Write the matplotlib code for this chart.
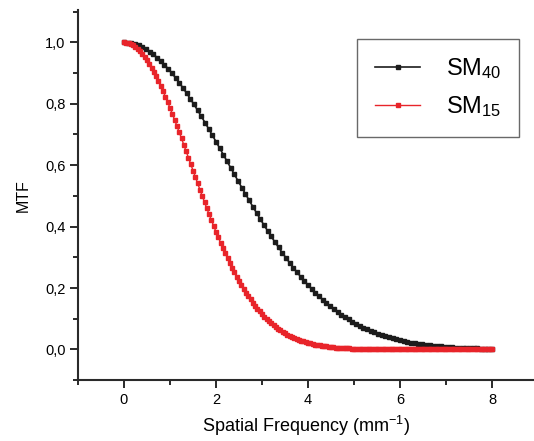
import numpy as np
import matplotlib
matplotlib.use("Agg")
import matplotlib.pyplot as plt
from matplotlib.ticker import MultipleLocator, FuncFormatter

# ---------------- DATOS ----------------
# SM40: 101 muestras, paso 0.08 mm^-1
freq_sm40 = np.linspace(0, 8, 101)
mtf_sm40 = [
    1.0000, 0.9994, 0.9975, 0.9944, 0.9900, 0.9845, 0.9778, 0.9698, 0.9608, 0.9506,
    0.9394, 0.9272, 0.9139, 0.8998, 0.8847, 0.8688, 0.8521, 0.8347, 0.8167, 0.7980,
    0.7788, 0.7591, 0.7390, 0.7185, 0.6977, 0.6766, 0.6554, 0.6341, 0.6126, 0.5912,
    0.5698, 0.5485, 0.5273, 0.5063, 0.4855, 0.4650, 0.4449, 0.4250, 0.4056, 0.3865,
    0.3679, 0.3497, 0.3320, 0.3149, 0.2982, 0.2821, 0.2665, 0.2514, 0.2369, 0.2230,
    0.2096, 0.1968, 0.1845, 0.1728, 0.1616, 0.1510, 0.1409, 0.1313, 0.1221, 0.1135,
    0.1054, 0.0977, 0.0905, 0.0837, 0.0773, 0.0713, 0.0657, 0.0605, 0.0556, 0.0510,
    0.0468, 0.0428, 0.0392, 0.0358, 0.0326, 0.0297, 0.0271, 0.0246, 0.0223, 0.0202,
    0.0183, 0.0166, 0.0150, 0.0135, 0.0122, 0.0109, 0.0098, 0.0088, 0.0079, 0.0071,
    0.0063, 0.0057, 0.0050, 0.0045, 0.0040, 0.0036, 0.0032, 0.0028, 0.0025, 0.0022,
    0.0019,
]

# SM15: 161 muestras, paso 0.05 mm^-1
freq_sm15 = np.linspace(0, 8, 161)
mtf_sm15 = [
    1.0000, 0.9994, 0.9976, 0.9946, 0.9904, 0.9851, 0.9786, 0.9710, 0.9623, 0.9526,
    0.9418, 0.9300, 0.9172, 0.9036, 0.8891, 0.8737, 0.8576, 0.8408, 0.8233, 0.8052,
    0.7866, 0.7675, 0.7480, 0.7281, 0.7078, 0.6873, 0.6666, 0.6457, 0.6248, 0.6038,
    0.5827, 0.5618, 0.5410, 0.5203, 0.4998, 0.4795, 0.4595, 0.4398, 0.4205, 0.4015,
    0.3829, 0.3647, 0.3470, 0.3298, 0.3130, 0.2967, 0.2809, 0.2657, 0.2510, 0.2368,
    0.2231, 0.2100, 0.1974, 0.1854, 0.1738, 0.1628, 0.1524, 0.1424, 0.1329, 0.1239,
    0.1153, 0.1072, 0.0996, 0.0924, 0.0856, 0.0793, 0.0733, 0.0677, 0.0624, 0.0575,
    0.0529, 0.0486, 0.0446, 0.0409, 0.0374, 0.0342, 0.0313, 0.0285, 0.0260, 0.0236,
    0.0215, 0.0195, 0.0177, 0.0160, 0.0145, 0.0131, 0.0118, 0.0107, 0.0096, 0.0086,
    0.0077, 0.0070, 0.0062, 0.0056, 0.0050, 0.0044, 0.0040, 0.0035, 0.0031, 0.0028,
    0.0025, 0.0022, 0.0019, 0.0017, 0.0015, 0.0013, 0.0012, 0.0010, 0.0009, 0.0008,
    0.0007, 0.0006, 0.0005, 0.0005, 0.0004, 0.0004, 0.0003, 0.0003, 0.0003, 0.0002,
    0.0002, 0.0002, 0.0001, 0.0001, 0.0001, 0.0001, 0.0000, 0.0000, 0.0000, 0.0000,
    0.0000, 0.0000, 0.0000, 0.0000, 0.0000, 0.0000, 0.0000, 0.0000, 0.0000, 0.0000,
    0.0000, 0.0000, 0.0000, 0.0000, 0.0000, 0.0000, 0.0000, 0.0000, 0.0000, 0.0000,
    0.0000, 0.0000, 0.0000, 0.0000, 0.0000, 0.0000, 0.0000, 0.0000, 0.0000, 0.0000,
    0.0000,
]

labels = ["SM$_{40}$", "SM$_{15}$"]
colors = ["#1c1c1c", "#e8242a"]

# ---------------- FIGURA ----------------
plt.rcParams['font.family'] = ['Liberation Sans', 'DejaVu Sans']
plt.rcParams['mathtext.fontset'] = 'custom'
plt.rcParams['mathtext.rm'] = 'Liberation Sans'
plt.rcParams['mathtext.it'] = 'Liberation Sans'

fig = plt.figure(figsize=(5.34, 4.41), dpi=100)
ax = fig.add_axes([0.146, 0.138, 0.854, 0.839])

ax.plot(freq_sm40, mtf_sm40, color=colors[0], lw=1.2, marker='s', ms=2.9,
        mec=colors[0], mfc=colors[0], label=labels[0], zorder=3)
ax.plot(freq_sm15, mtf_sm15, color=colors[1], lw=1.0, marker='s', ms=2.7,
        mec=colors[1], mfc=colors[1], label=labels[1], zorder=4)

ax.set_xlim(-1, 8.91)
ax.set_ylim(-0.1, 1.105)
ax.xaxis.set_major_locator(MultipleLocator(2))
ax.xaxis.set_minor_locator(MultipleLocator(1))
ax.yaxis.set_major_locator(MultipleLocator(0.2))
ax.yaxis.set_minor_locator(MultipleLocator(0.1))
ax.xaxis.set_major_formatter(FuncFormatter(lambda v, p: f"{v:.0f}"))
ax.yaxis.set_major_formatter(FuncFormatter(lambda v, p: f"{v:.1f}".replace('.', ',')))

for s in ['top', 'right']:
    ax.spines[s].set_visible(False)
for s in ['left', 'bottom']:
    ax.spines[s].set_linewidth(1.5)
    ax.spines[s].set_color('#2a2a2a')
ax.tick_params(which='major', direction='out', length=6, width=1.4, labelsize=10.5,
               color='#2a2a2a', pad=3)
ax.tick_params(which='minor', direction='out', length=3.5, width=1.4, color='#2a2a2a')

ax.set_xlabel("Spatial Frequency (mm$^{-1}$)", fontsize=13, labelpad=5)
ax.set_ylabel("MTF", fontsize=11.5, labelpad=10)

leg = ax.legend(loc='upper right', bbox_to_anchor=(0.972, 0.912),
                bbox_transform=fig.transFigure, fontsize=17, frameon=True,
                fancybox=False, edgecolor='#444444', handlelength=1.9,
                borderpad=0.75, labelspacing=0.55, handletextpad=1.1, borderaxespad=0)
leg.get_frame().set_linewidth(1.0)

fig.savefig("out.png", dpi=100)
